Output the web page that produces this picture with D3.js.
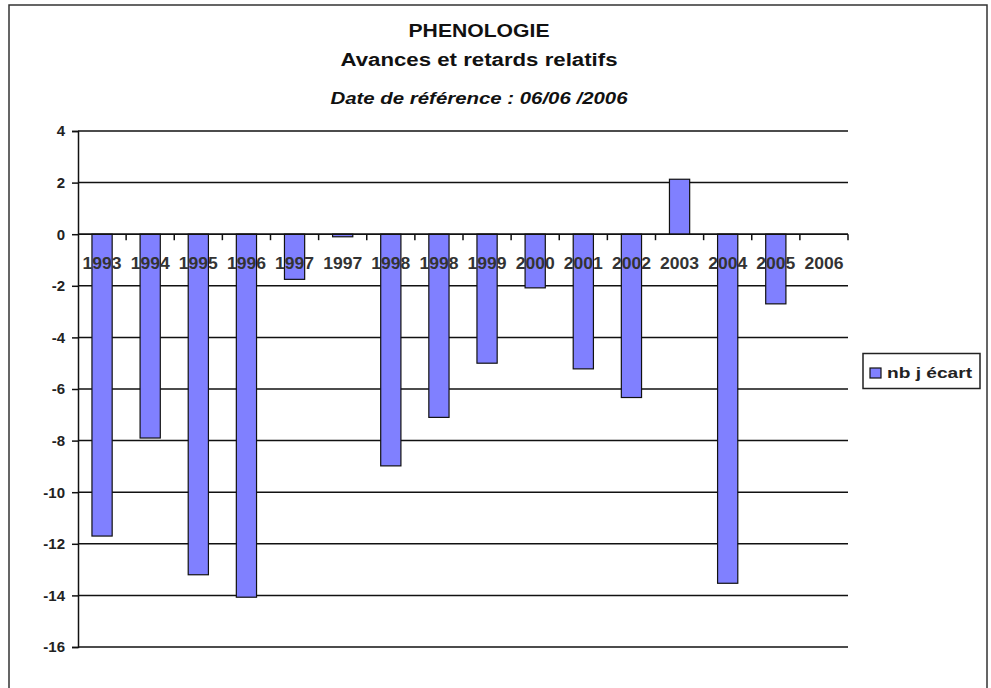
<!DOCTYPE html>
<html><head><meta charset="utf-8">
<script src="https://cdn.jsdelivr.net/npm/d3@7"></script>
<style>html,body{margin:0;padding:0;background:#fff;}svg{display:block;font-family:"Liberation Sans",Arial,sans-serif;}</style>
</head><body>
<svg id="c" width="991" height="688"></svg>
<script>
const categories = ["1993","1994","1995","1996","1997","1997","1998","1998","1999","2000","2001","2002","2003","2004","2005","2006"];
const values = [-11.7,-7.9,-13.2,-14.07,-1.75,-0.1,-8.98,-7.1,-5.0,-2.08,-5.22,-6.33,2.13,-13.53,-2.7,null];
const yTicks = [4,2,0,-2,-4,-6,-8,-10,-12,-14,-16];
const seriesName = "nb j écart";

const svg = d3.select("#c");
// outer frame
svg.append("rect").attr("x",9).attr("y",5).attr("width",978).attr("height",700)
  .attr("fill","none").attr("stroke","#333").attr("stroke-width",1.5);

const L=78, R=848, T=131, B=647;
const x = d3.scaleBand().domain(d3.range(categories.length)).range([L,R]).paddingInner(0.58).paddingOuter(0.29);
const xb = d3.scaleBand().domain(d3.range(categories.length)).range([L,R]);
const y = d3.scaleLinear().domain([-16,4]).range([B,T]);

// titles
const tt = svg.append("g").attr("fill","#111").attr("text-anchor","middle");
tt.append("text").attr("x",479).attr("y",37).attr("font-size",18).attr("font-weight","bold")
  .attr("textLength",141).attr("lengthAdjust","spacingAndGlyphs").text("PHENOLOGIE");
tt.append("text").attr("x",479).attr("y",66).attr("font-size",18).attr("font-weight","bold")
  .attr("textLength",277).attr("lengthAdjust","spacingAndGlyphs").text("Avances et retards relatifs");
tt.append("text").attr("x",479).attr("y",104).attr("font-size",16).attr("font-weight","bold").attr("font-style","italic")
  .attr("textLength",297).attr("lengthAdjust","spacingAndGlyphs").text("Date de référence : 06/06 /2006");

// gridlines
svg.append("g").selectAll("line").data(yTicks).join("line")
  .attr("x1",L).attr("x2",R).attr("y1",d=>y(d)).attr("y2",d=>y(d))
  .attr("stroke","#111").attr("stroke-width",1.5);

// y axis
const yAxis = svg.append("g").attr("transform",`translate(${L},0)`)
  .call(d3.axisLeft(y).tickValues(yTicks).tickSize(6).tickPadding(7).tickFormat(d=>String(d)));
yAxis.select(".domain").attr("stroke","#111").attr("stroke-width",1.5);
yAxis.selectAll(".tick line").attr("stroke","#111").attr("stroke-width",1.5);
yAxis.selectAll("text").attr("font-size",15).attr("font-weight","bold").attr("fill","#222")
  .attr("font-family","'Liberation Sans',Arial,sans-serif");

// bars
svg.append("g").selectAll("rect").data(values.map((v,i)=>({v,i})).filter(d=>d.v!==null)).join("rect")
  .attr("x",d=>x(d.i)).attr("width",x.bandwidth())
  .attr("y",d=>y(Math.max(0,d.v))).attr("height",d=>Math.abs(y(d.v)-y(0)))
  .attr("fill","#8080ff").attr("stroke","#111").attr("stroke-width",1.2);

// x axis at zero
const xAxisG = svg.append("g").attr("transform",`translate(0,${y(0)})`);
xAxisG.append("line").attr("x1",L).attr("x2",R).attr("stroke","#111").attr("stroke-width",1.5);
const bounds = d3.range(categories.length+1).map(i=> i<categories.length ? xb(i) : R);
xAxisG.selectAll(".tk").data(bounds.slice(1)).join("line").attr("class","tk")
  .attr("x1",d=>d).attr("x2",d=>d).attr("y1",0).attr("y2",6).attr("stroke","#111").attr("stroke-width",1.5);
xAxisG.selectAll(".lb").data(categories).join("text").attr("class","lb")
  .attr("x",(d,i)=>xb(i)+xb.bandwidth()/2).attr("y",35).attr("text-anchor","middle")
  .attr("font-size",16).attr("font-weight","bold").attr("fill","#333")
  .attr("textLength",39).attr("lengthAdjust","spacingAndGlyphs").text(d=>d);

// legend
const lg = svg.append("g");
lg.append("rect").attr("x",863).attr("y",353.5).attr("width",117).attr("height",35)
  .attr("fill","#fff").attr("stroke","#222").attr("stroke-width",1.5);
lg.append("rect").attr("x",870).attr("y",368).attr("width",11).attr("height",10)
  .attr("fill","#8080ff").attr("stroke","#111").attr("stroke-width",1.2);
lg.append("text").attr("x",887).attr("y",378).attr("font-size",15).attr("font-weight","bold").attr("fill","#222")
  .attr("textLength",85).attr("lengthAdjust","spacingAndGlyphs").text(seriesName);
</script>
</body></html>
